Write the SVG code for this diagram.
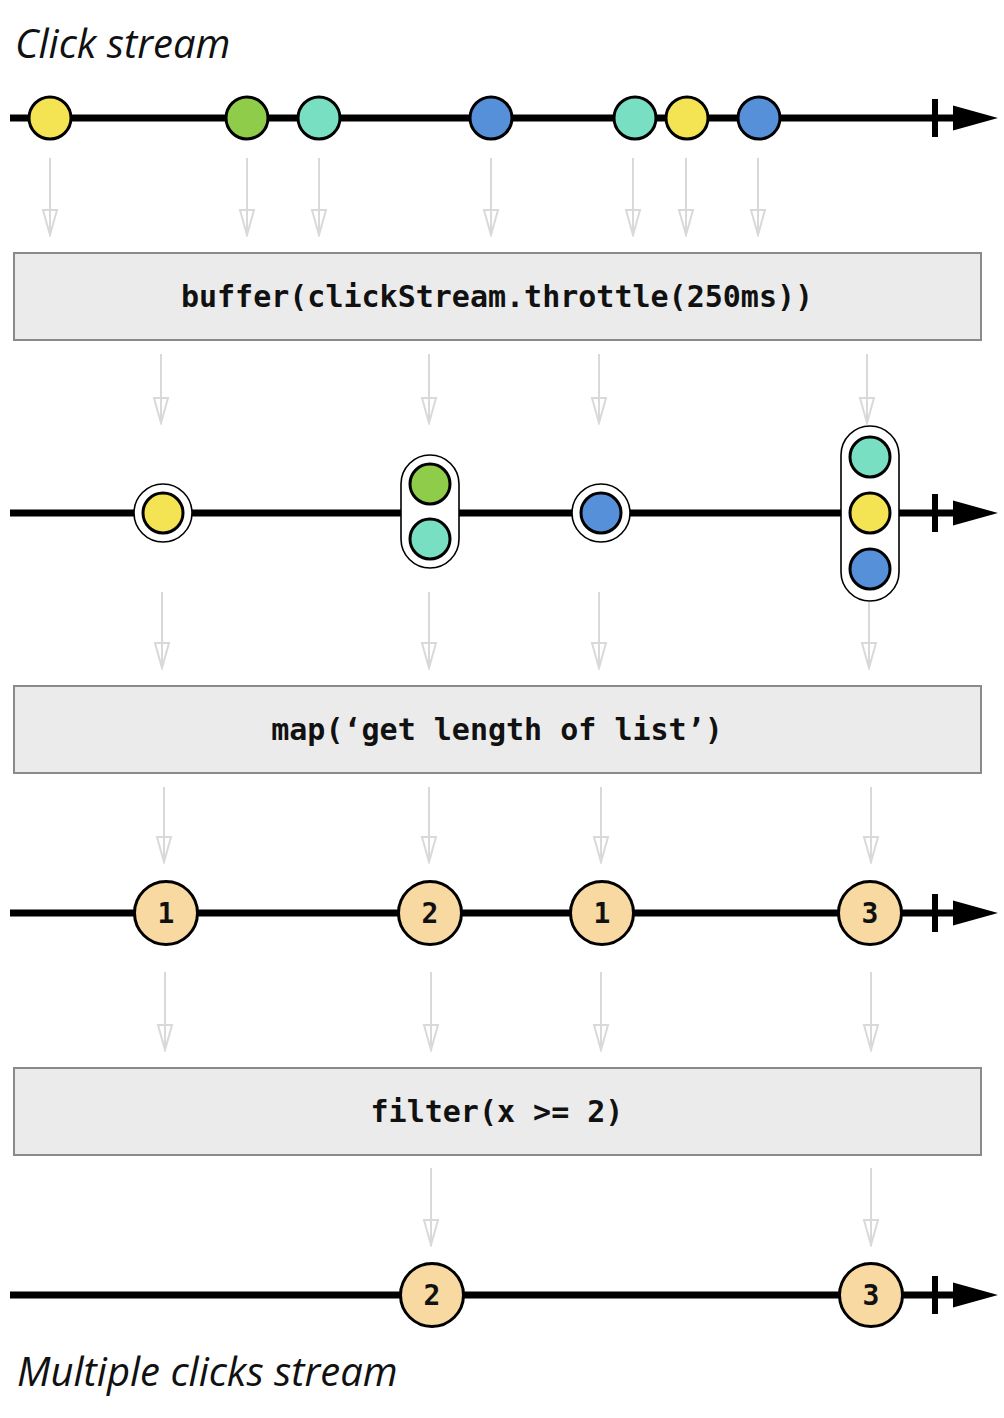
<svg xmlns="http://www.w3.org/2000/svg" xmlns:xlink="http://www.w3.org/1999/xlink" width="1004" height="1418" viewBox="0 0 1004 1418">
  <style>
    .title { font-family: "Open Sans", "Liberation Sans", sans-serif; font-style: italic; font-size: 40px; fill: #111; }
    .axis { stroke: #000; stroke-width: 7; fill: none; }
    .marble { stroke: #000; stroke-width: 3; }
    .yellow { fill: #f4e453; }
    .green { fill: #8fcc4a; }
    .teal { fill: #78dfc3; }
    .blue { fill: #5590d9; }
    .num { fill: #f7d9a1; }
    .ring { fill: #fff; stroke: #000; stroke-width: 1.6; }
    .op rect { fill: #ebebeb; stroke: #8a8a8a; stroke-width: 2; }
    .code { font-family: "DejaVu Sans Mono", "Liberation Mono", monospace; font-weight: bold; font-size: 30px; fill: #111; text-anchor: middle; }
    .label { font-family: "DejaVu Sans Mono", "Liberation Mono", monospace; font-weight: bold; font-size: 28px; fill: #111; text-anchor: middle; }
    .flow { stroke: #d9d9d9; stroke-width: 2; fill: none; marker-end: url(#openHead); }
  </style>
  <defs>
    <marker id="openHead" markerUnits="userSpaceOnUse" viewBox="0 0 28 18" refX="26" refY="9" markerWidth="28" markerHeight="18" orient="auto">
      <path d="M1,2 L26,9 L1,16 Z" fill="none" stroke="#d9d9d9" stroke-width="2"/>
    </marker>
    <!-- completion tick and arrowhead at the end of a timeline, origin on the axis -->
    <g id="axisEnd">
      <rect x="932" y="-19" width="6" height="38" fill="#000"/>
      <polygon points="953,-12.5 998,0 953,12.5" fill="#000"/>
    </g>
  </defs>

  <text class="title" x="15" y="58">Click stream</text>

  <!-- connectors between stages -->
  <g id="connectors">
    <path class="flow" d="M50,158 V235"/>
    <path class="flow" d="M247,158 V235"/>
    <path class="flow" d="M319,158 V235"/>
    <path class="flow" d="M491,158 V235"/>
    <path class="flow" d="M633,158 V235"/>
    <path class="flow" d="M686,158 V235"/>
    <path class="flow" d="M758,158 V235"/>

    <path class="flow" d="M161,354 V423"/>
    <path class="flow" d="M429,354 V423"/>
    <path class="flow" d="M599,354 V423"/>
    <path class="flow" d="M867,354 V423"/>

    <path class="flow" d="M162,592 V668"/>
    <path class="flow" d="M429,592 V668"/>
    <path class="flow" d="M599,592 V668"/>
    <path class="flow" d="M869,602 V668"/>

    <path class="flow" d="M164,787 V862"/>
    <path class="flow" d="M429,787 V862"/>
    <path class="flow" d="M601,787 V862"/>
    <path class="flow" d="M871,787 V862"/>

    <path class="flow" d="M165,972 V1050"/>
    <path class="flow" d="M431,972 V1050"/>
    <path class="flow" d="M601,972 V1050"/>
    <path class="flow" d="M871,972 V1050"/>

    <path class="flow" d="M431,1168 V1245"/>
    <path class="flow" d="M871,1168 V1245"/>
  </g>

  <!-- source timeline: clicks -->
  <g id="clicks">
    <line class="axis" x1="10" y1="118" x2="955" y2="118"/>
    <use xlink:href="#axisEnd" href="#axisEnd" transform="translate(0,118)"/>
    <circle class="marble yellow" cx="50" cy="118" r="21"/>
    <circle class="marble green" cx="247" cy="118" r="21"/>
    <circle class="marble teal" cx="319" cy="118" r="21"/>
    <circle class="marble blue" cx="491" cy="118" r="21"/>
    <circle class="marble teal" cx="635" cy="118" r="21"/>
    <circle class="marble yellow" cx="687" cy="118" r="21"/>
    <circle class="marble blue" cx="759" cy="118" r="21"/>
  </g>

  <g id="op-buffer" class="op">
    <rect x="14" y="253" width="967" height="87"/>
    <text class="code" x="497" y="307">buffer(clickStream.throttle(250ms))</text>
  </g>

  <!-- buffered lists -->
  <g id="buffered">
    <line class="axis" x1="10" y1="513" x2="955" y2="513"/>
    <use xlink:href="#axisEnd" href="#axisEnd" transform="translate(0,513)"/>
    <g id="list-a">
      <circle class="ring" cx="163" cy="513" r="29"/>
      <circle class="marble yellow" cx="163" cy="513" r="20"/>
    </g>
    <g id="list-b">
      <rect class="ring" x="401" y="455" width="58" height="113" rx="29"/>
      <circle class="marble green" cx="430" cy="484" r="20"/>
      <circle class="marble teal" cx="430" cy="539" r="20"/>
    </g>
    <g id="list-c">
      <circle class="ring" cx="601" cy="513" r="29"/>
      <circle class="marble blue" cx="601" cy="513" r="20"/>
    </g>
    <g id="list-d">
      <rect class="ring" x="841" y="426" width="58" height="175" rx="29"/>
      <circle class="marble teal" cx="870" cy="457" r="20"/>
      <circle class="marble yellow" cx="870" cy="513" r="20"/>
      <circle class="marble blue" cx="870" cy="569" r="20"/>
    </g>
  </g>

  <g id="op-map" class="op">
    <rect x="14" y="686" width="967" height="87"/>
    <text class="code" x="497" y="740">map(‘get length of list’)</text>
  </g>

  <!-- list lengths -->
  <g id="lengths">
    <line class="axis" x1="10" y1="913" x2="955" y2="913"/>
    <use xlink:href="#axisEnd" href="#axisEnd" transform="translate(0,913)"/>
    <g id="len-1a"><circle class="marble num" cx="166" cy="913" r="31.5"/><text class="label" x="166" y="923">1</text></g>
    <g id="len-2"><circle class="marble num" cx="430" cy="913" r="31.5"/><text class="label" x="430" y="923">2</text></g>
    <g id="len-1b"><circle class="marble num" cx="602" cy="913" r="31.5"/><text class="label" x="602" y="923">1</text></g>
    <g id="len-3"><circle class="marble num" cx="870" cy="913" r="31.5"/><text class="label" x="870" y="923">3</text></g>
  </g>

  <g id="op-filter" class="op">
    <rect x="14" y="1068" width="967" height="87"/>
    <text class="code" x="497" y="1122">filter(x &gt;= 2)</text>
  </g>

  <!-- result: multiple clicks -->
  <g id="multi">
    <line class="axis" x1="10" y1="1295" x2="955" y2="1295"/>
    <use xlink:href="#axisEnd" href="#axisEnd" transform="translate(0,1295)"/>
    <g id="multi-2"><circle class="marble num" cx="432" cy="1295" r="31.5"/><text class="label" x="432" y="1305">2</text></g>
    <g id="multi-3"><circle class="marble num" cx="871" cy="1295" r="31.5"/><text class="label" x="871" y="1305">3</text></g>
  </g>

  <text class="title" x="17" y="1386">Multiple clicks stream</text>
</svg>
